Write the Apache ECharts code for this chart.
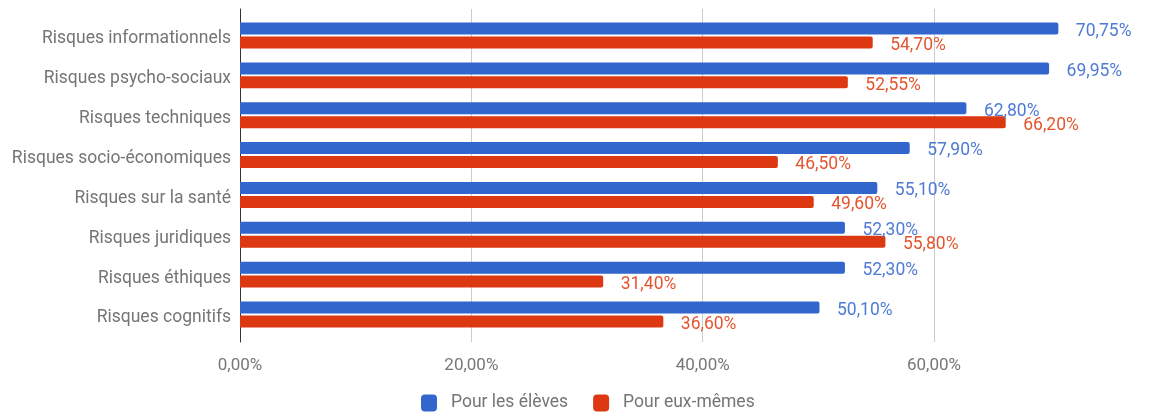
<!DOCTYPE html>
<html>
<head>
<meta charset="utf-8">
<script src="https://cdn.jsdelivr.net/npm/echarts@6/dist/echarts.min.js"></script>
<style>
html,body{margin:0;padding:0;background:#fff;}
#chart{width:1157px;height:413px;}
</style>
</head>
<body>
<div id="chart"></div>
<script>
const categories = ["Risques informationnels","Risques psycho-sociaux","Risques techniques","Risques socio-économiques","Risques sur la santé","Risques juridiques","Risques éthiques","Risques cognitifs"];
const seriesNames = ["Pour les élèves","Pour eux-mêmes"];
const pourEleves = [70.75,69.95,62.80,57.90,55.10,52.30,52.30,50.10];
const pourEuxMemes = [54.70,52.55,66.20,46.50,49.60,55.80,31.40,36.60];
const axisTicks = [0,20,40,60];

const fmt = v => v.toFixed(2).replace('.', ',') + '%';
const FONT = 'Roboto';
// px per percentage unit: 0% at x=240, 60% at x=934
const PX_PER_UNIT = (934 - 240) / 60;
const BAR_AXIS_MAX = 917 / PX_PER_UNIT;
const LABEL_SHIFT = 3.5;

const chart = echarts.init(document.getElementById('chart'), null, {renderer:'canvas'});
chart.setOption({
  animation:false,
  textStyle:{fontFamily:FONT},
  legend:{
    data:seriesNames,
    left:416, top:389,
    icon:'roundRect',
    itemWidth:16, itemHeight:17, itemGap:25,
    textStyle:{color:'#757575', fontSize:17.5, fontFamily:FONT, padding:[0,0,0,9]}
  },
  grid:[
    {left:240, width:60 * PX_PER_UNIT, top:9, bottom:71},
    {left:240, right:0, top:15.6, bottom:78.6},
    {left:240, right:0, top:15.6 + LABEL_SHIFT, bottom:78.6 - LABEL_SHIFT}
  ],
  xAxis:[
    {type:'value', gridIndex:0, min:0, max:60, interval:20,
     axisLine:{show:false}, axisTick:{show:false},
     splitLine:{lineStyle:{color:'#cccccc', width:1}},
     axisLabel:{color:'#777', fontSize:17, fontFamily:FONT, margin:15,
       formatter:v => axisTicks.includes(v) ? fmt(v) : ''}},
    {type:'value', gridIndex:1, min:0, max:BAR_AXIS_MAX, show:false},
    {type:'value', gridIndex:2, min:0, max:BAR_AXIS_MAX, show:false}
  ],
  yAxis:[
    {type:'value', gridIndex:0, min:0, max:1, axisLabel:{show:false}, splitLine:{show:false},
     axisTick:{show:false}, axisLine:{show:true, lineStyle:{color:'#333', width:1}}},
    {type:'category', gridIndex:1, data:categories, inverse:true,
     axisLine:{show:false}, axisTick:{show:false}, axisLabel:{show:false}},
    {type:'category', gridIndex:2, data:categories, inverse:true,
     axisLine:{show:false}, axisTick:{show:false}, splitLine:{show:false},
     axisLabel:{color:'#757575', fontSize:17.5, fontFamily:FONT, margin:9}}
  ],
  series:[
    {name:seriesNames[0], type:'bar', xAxisIndex:1, yAxisIndex:1, data:pourEleves,
     barWidth:12, barGap:'16%', z:3,
     itemStyle:{color:'#3366cc', borderRadius:[0,2,2,0]},
     label:{show:true, position:'right', distance:17.5, offset:[0,3], color:'#4f7ad6', fontSize:17.5, fontFamily:FONT,
       formatter:p => fmt(p.value)}},
    {name:seriesNames[1], type:'bar', xAxisIndex:1, yAxisIndex:1, data:pourEuxMemes,
     barWidth:12, barGap:'16%', z:3,
     itemStyle:{color:'#dc3912', borderRadius:[0,2,2,0]},
     label:{show:true, position:'right', distance:17.5, offset:[0,3], color:'#e4552f', fontSize:17.5, fontFamily:FONT,
       formatter:p => fmt(p.value)}}
  ]
});
</script>
</body>
</html>
